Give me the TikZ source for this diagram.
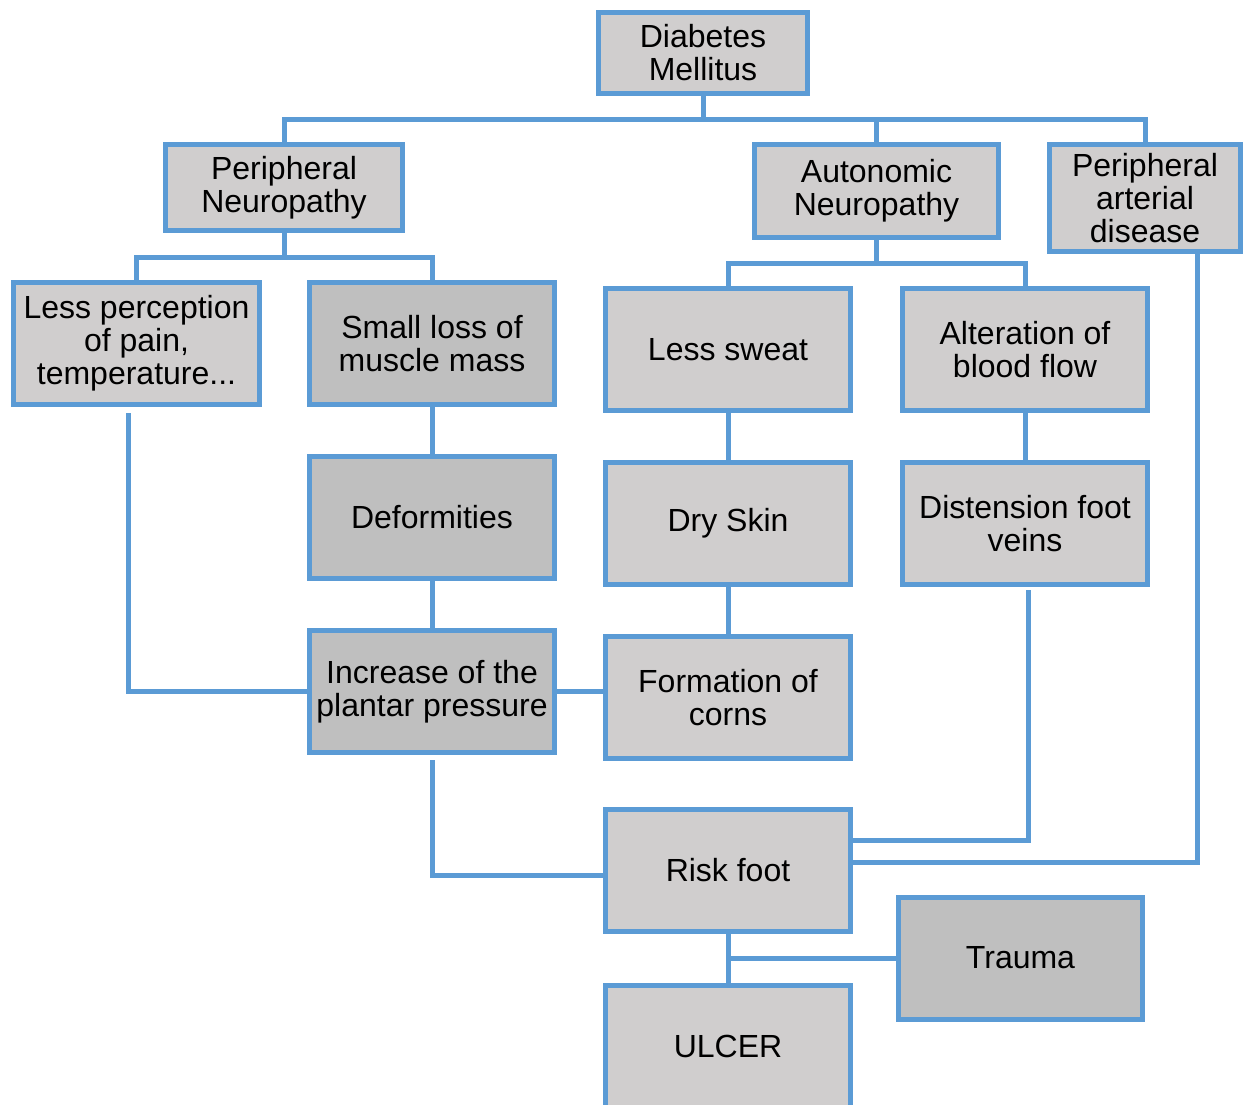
\documentclass[tikz,border=0pt]{standalone}
\usepackage{fontspec}
\setmainfont{Liberation Sans}
\begin{document}
\begin{tikzpicture}[x=1pt,y=-1pt,
  box/.style={draw=lineColor,line width=5pt,fill=lightFill,text=black,align=center,
    inner sep=0pt,minimum width=245pt,minimum height=122pt,
    font=\fontsize{32}{33}\selectfont},
  darkbox/.style={box,fill=darkFill},
  link/.style={draw=lineColor,line width=5pt}]
\definecolor{lineColor}{RGB}{91,155,213}
\definecolor{lightFill}{RGB}{208,206,206}
\definecolor{darkFill}{RGB}{191,191,191}
\useasboundingbox (0,0) rectangle (1246,1104);

% top levels
\node[box,minimum width=209pt,minimum height=81pt] (dm) at (703,53) {Diabetes\\Mellitus};
\node[box,minimum width=237pt,minimum height=86pt] (pn) at (284,187.5) {Peripheral\\Neuropathy};
\node[box,minimum width=244pt,minimum height=93pt] (an) at (876.5,191) {Autonomic\\Neuropathy};
\node[box,minimum width=191pt,minimum height=107pt] (pad) at (1145,198) {Peripheral\\arterial\\disease};

% second level
\node[box,minimum width=246pt] (lpp) at (136.5,343.5) {Less perception\\of pain,\\temperature...};
\node[darkbox] (slm) at (432,343.5) {Small loss of\\muscle mass};
\node[box] (lsw) at (728,349.5) {Less sweat};
\node[box] (abf) at (1025,349.5) {Alteration of\\blood flow};

% third level
\node[darkbox] (def) at (432,517.5) {Deformities};
\node[box] (dry) at (728,523.5) {Dry Skin};
\node[box] (dfv) at (1025,523.5) {Distension foot\\veins};

% fourth level
\node[darkbox] (inc) at (432,691.5) {Increase of the\\plantar pressure};
\node[box] (crn) at (728,697.5) {Formation of\\corns};

% bottom
\node[box] (risk) at (728,870.5) {Risk foot};
\node[darkbox,minimum width=244pt] (trm) at (1020.5,958) {Trauma};
\node[box] (ulc) at (728,1046.5) {ULCER};

% connectors
\draw[link] (dm.south) -- ++(0,23) coordinate (bus1);
\draw[link] (pn.north) |- (bus1) -| (pad.north);
\draw[link] (an.north) -- (an.north |- bus1);

\draw[link] (pn.south) -- ++(0,24) coordinate (bus2);
\draw[link] (lpp.north) |- (bus2) -| (slm.north);

\draw[link] (an.south) -- ++(0,23) coordinate (bus3);
\draw[link] (lsw.north) |- (bus3) -| (abf.north);

\draw[link] (slm) -- (def);
\draw[link] (def) -- (inc);
\draw[link] (lsw) -- (dry);
\draw[link] (dry) -- (crn);
\draw[link] (abf) -- (dfv);
\draw[link] (inc) -- (crn.west |- inc);

\draw[link] ([xshift=-8.5pt,yshift=-6pt]lpp.south) |- (inc.west);
\draw[link] ([yshift=-5pt]inc.south) |- ([yshift=-4.5pt]risk.west);
\draw[link] ([xshift=3pt,yshift=-3pt]dfv.south) |- ([yshift=30.5pt]risk.east);
\draw[link] ([xshift=52pt]pad.south) |- ([yshift=8.5pt]risk.east);

\draw[link] (risk) -- (ulc);
\draw[link] (trm.west) -- (trm.west -| risk.south);
\end{tikzpicture}
\end{document}
